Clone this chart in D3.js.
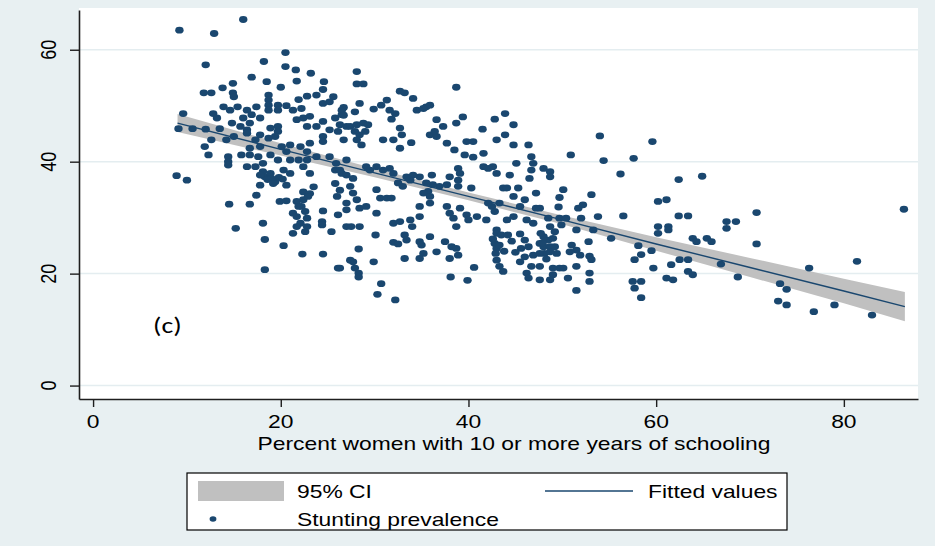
<!DOCTYPE html>
<html>
<head>
<meta charset="utf-8">
<script src="https://cdn.jsdelivr.net/npm/d3@7"></script>
<style>
  html, body { margin: 0; padding: 0; background: #e8f0f2; }
  svg { display: block; }
</style>
</head>
<body>
<svg id="chart" width="935" height="546"></svg>
<script>
// District-level points: share of women with 10+ years of schooling vs. child stunting
const schooling = [
  9.2,12.9,16.0,20.5,12.0,18.2,20.5,21.6,23.2,16.9,18.5,14.9,13.8,11.8,12.6,14.9,15.0,20.0,24.6,24.5,
  21.7,18.7,18.7,18.7,18.7,21.9,22.8,23.8,25.6,25.2,24.5,26.7,9.6,9.1,10.6,12.0,13.5,12.8,13.2,13.9,
  14.6,15.4,16.4,17.4,16.9,16.0,16.4,15.7,14.8,16.7,17.8,19.7,20.6,19.7,21.3,22.2,22.4,21.7,23.1,25.8,
  26.5,24.5,23.8,22.8,19.7,18.9,19.7,19.4,17.8,18.7,17.3,16.4,15.0,14.2,12.6,11.9,12.3,14.4,14.4,14.4,
  15.8,16.7,17.8,16.7,17.6,18.9,20.1,21.0,20.6,22.1,22.8,23.1,24.5,25.2,24.5,26.1,27.0,26.7,23.8,22.8,
  21.9,21.0,19.7,18.1,17.3,16.4,18.1,18.3,18.9,8.9,10.0,20.3,21.0,22.4,23.1,25.2,25.9,25.8,26.5,17.8,
  19.4,19.0,19.8,18.6,20.2,
  17.8,19.2,20.6,23.5,22.4,23.1,25.8,26.3,26.0,17.4,14.5,16.7,19.9,20.6,21.7,22.2,21.3,21.7,22.6,22.8,
  24.5,26.1,27.0,22.1,21.3,22.6,24.4,24.4,25.4,27.0,15.2,18.1,18.3,20.3,22.3,24.5,18.3,26.1,27.4,21.9,
  22.4,22.9,21.7,22.8,
  28.1,28.1,28.8,38.7,32.7,33.2,34.1,31.3,30.7,29.9,28.4,27.9,31.6,32.2,31.8,34.5,35.5,35.9,35.2,26.5,
  26.7,26.3,27.4,28.1,28.8,29.3,27.9,28.4,29.0,28.1,28.6,32.7,32.9,30.9,32.0,33.9,32.7,36.6,37.3,38.7,
  39.4,41.5,42.8,43.9,44.8,35.9,36.6,36.4,37.7,39.8,40.5,38.5,39.6,40.5,41.6,43.0,43.9,44.8,46.4,46.7,
  46.9,46.7,46.5,45.1,44.4,42.6,41.6,42.1,43.0,43.7,44.1,45.3,46.0,44.8,43.3,42.5,42.8,42.1,40.3,38.9,
  38.9,39.1,38.9,38.0,37.7,36.9,36.2,35.5,35.7,35.2,36.1,34.8,34.1,33.8,33.4,33.0,32.5,32.0,31.6,30.9,
  30.2,29.5,29.1,27.0,26.3,27.0,27.7,27.4,27.7,28.1,27.0,28.4,29.1,30.2,30.6,31.3,31.8,30.2,27.5,28.4,
  34.8,34.8,33.8,34.0,32.0,32.7,35.9,35.9,37.7,38.0,39.1,39.8,40.0,38.4,38.7,40.9,41.9,44.1,44.8,45.5,
  47.2,47.2,46.2,46.9,43.0,
  30.1,32.0,32.5,33.2,33.4,34.8,35.0,35.9,37.5,38.2,38.7,38.9,38.0,36.6,35.2,34.8,33.2,28.3,27.7,27.9,
  28.3,28.3,29.9,30.7,30.3,32.2,38.1,39.9,40.6,43.0,43.5,44.2,42.8,43.0,43.3,43.0,43.3,43.7,45.5,46.0,
  45.6,46.4,45.5,46.0,46.9,46.7,46.2,46.4,26.3,47.6,42.6,42.9,43.8,44.6,45.0,
  54.0,59.6,50.9,54.4,57.6,56.2,62.4,64.9,48.0,48.7,48.7,50.1,49.7,49.6,47.6,53.1,51.7,52.2,52.0,53.8,
  56.5,60.2,61.1,62.4,63.4,67.5,67.5,48.5,49.7,50.4,48.7,49.9,49.2,51.5,53.3,55.2,60.2,60.2,61.3,61.3,
  63.9,64.3,65.4,65.9,52.8,51.0,51.5,50.8,51.9,48.0,48.0,48.5,48.7,48.1,49.2,49.4,48.7,47.6,52.9,53.1,
  51.5,52.9,52.9,51.5,50.6,49.7,49.0,50.1,49.0,48.7,47.6,47.6,58.1,59.5,58.4,57.7,59.7,61.6,62.5,63.4,
  63.4,63.9,61.1,61.8,57.5,57.7,58.4,58.4,66.9,47.9,48.3,49.0,47.7,
  68.5,70.7,70.7,68.7,73.2,73.9,73.0,73.9,76.3,76.8,79.0,81.4,83.0,86.4
];
const stunting = [
  63.5,62.9,65.4,59.5,57.3,57.9,57.0,56.4,55.8,55.1,54.3,54.0,53.2,52.3,52.3,52.3,51.6,53.3,54.3,52.9,
  54.4,51.9,51.0,50.1,49.2,51.1,51.7,51.9,51.6,50.7,50.4,49.7,48.6,45.9,45.9,45.8,45.9,48.6,47.8,49.8,
  49.2,49.8,49.2,49.8,48.4,47.8,45.7,46.3,46.9,46.9,47.8,50.1,50.0,49.2,49.2,49.5,47.8,47.5,48.1,47.8,
  48.4,47.2,46.3,46.3,46.3,46.0,45.4,44.5,44.8,44.2,43.9,45.1,44.5,43.9,43.9,42.7,41.2,40.9,40.0,39.4,
  41.2,42.4,42.7,41.2,40.9,41.2,42.7,43.0,41.8,42.7,41.8,43.3,44.5,45.7,43.6,45.4,46.3,43.9,40.9,40.3,
  40.3,40.3,40.3,39.7,39.1,39.1,38.2,37.3,37.9,37.5,36.7,38.5,37.9,39.1,37.9,40.9,39.7,38.5,37.9,37.6,
  36.4,37.0,37.2,36.8,36.9,
  35.8,36.1,35.8,35.5,34.6,34.3,36.1,34.9,33.8,34.0,32.4,32.4,32.9,33.0,32.9,32.0,30.8,30.2,31.1,29.9,
  31.2,30.5,31.4,29.0,27.2,27.5,29.3,28.7,27.5,28.4,28.1,29.0,26.1,25.0,23.5,23.5,20.7,21.0,22.4,32.0,
  33.2,33.8,28.4,28.4,
  56.1,53.9,53.9,53.3,52.6,52.3,51.3,51.0,50.1,49.4,50.4,48.9,49.2,48.6,47.6,49.2,49.8,50.1,49.5,49.2,
  48.3,46.6,46.3,46.6,46.9,46.6,45.4,44.8,45.4,43.9,43.0,46.0,44.8,43.9,43.9,43.4,42.4,47.5,46.3,46.9,
  48.0,45.8,47.6,48.6,46.6,44.8,44.5,45.4,43.3,43.6,43.6,42.1,41.2,40.8,41.5,43.9,44.8,43.0,43.0,40.9,
  39.7,38.5,37.0,39.7,37.6,39.1,39.1,38.8,37.9,35.3,35.3,35.3,33.2,33.8,32.6,32.0,31.1,32.6,35.3,35.6,
  36.7,37.9,38.8,37.3,35.9,35.6,35.9,36.2,34.7,34.4,37.6,37.3,37.6,36.7,37.3,35.6,36.2,37.9,38.8,38.5,
  39.1,38.5,39.1,40.3,38.5,37.6,37.0,35.6,34.4,33.2,32.6,31.7,32.0,35.0,33.5,33.5,33.5,30.8,28.4,28.4,
  32.0,30.2,29.6,28.4,29.0,29.3,32.6,33.8,32.0,30.8,31.7,30.5,29.6,29.9,28.4,30.2,29.6,29.6,30.2,32.0,
  34.4,31.7,29.6,29.0,27.8,
  26.9,25.6,25.3,26.9,26.0,25.7,25.1,26.6,25.7,24.8,24.5,23.3,22.7,23.9,23.6,22.7,22.7,24.4,22.1,21.0,
  20.1,19.4,22.1,18.2,16.3,15.3,19.4,18.8,21.1,27.2,26.9,26.9,25.4,24.5,25.1,22.4,21.3,20.4,27.1,26.0,
  24.5,24.8,22.1,23.0,23.3,21.3,20.1,19.2,21.0,25.4,26.2,23.6,24.0,25.8,23.8,
  44.6,43.6,41.2,40.2,40.6,37.8,36.8,37.4,38.8,38.2,37.3,35.0,33.6,31.9,31.7,34.1,31.7,32.3,29.9,30.2,
  30.3,32.9,33.2,30.3,30.3,29.3,28.1,29.9,29.9,29.9,28.4,28.7,27.5,27.8,27.8,26.3,28.4,27.2,28.4,27.8,
  26.3,25.7,26.3,25.7,25.7,25.1,24.2,23.9,23.3,26.6,24.8,26.0,24.8,23.6,24.8,23.6,23.9,23.6,23.1,22.5,
  21.3,20.1,18.6,17.0,19.2,21.0,21.0,21.0,19.8,18.9,21.3,18.9,25.0,24.1,23.4,22.5,21.0,21.6,22.5,22.5,
  20.4,19.8,19.2,18.9,18.6,17.4,18.6,15.7,21.7,25.5,22.6,26.3,27.2,
  29.3,30.9,25.3,19.4,18.2,17.2,15.1,14.4,21.0,13.2,14.4,22.2,12.6,31.5
];

// Linear fit with its 95% confidence band
const fitX    = [9, 20, 30, 40, 50, 60, 70, 80, 86.5];
const fitted  = [46.9, 42.2, 38.0, 33.8, 29.6, 25.3, 21.1, 16.9, 14.1];
const ciLower = [45.3, 41.1, 37.2, 33.1, 28.8, 24.1, 19.4, 14.7, 11.5];
const ciUpper = [48.5, 43.3, 38.8, 34.5, 30.4, 26.5, 22.8, 19.1, 16.7];

const xTicks = [0, 20, 40, 60, 80];
const yTicks = [0, 20, 40, 60];
const xTitle = "Percent women with 10 or more years of schooling";
const legendLabels = ["95% CI", "Fitted values", "Stunting prevalence"];
const panelLabel = "(c)";

const NAVY = "#1a476f";
const BAND = "#c0c0c0";
const SX = 1.27;          // wide type, as in the exported figure
const FONT = "'Liberation Sans', Arial, sans-serif";

const svg = d3.select("#chart");
const plot = { left: 79, right: 918, top: 8, bottom: 399 };

const x = d3.scaleLinear().domain([-1.5, 87.9]).range([plot.left, plot.right]);
const y = d3.scaleLinear().domain([-2.4, 67.1]).range([plot.bottom, 10]);

// background and plot region
svg.append("rect").attr("width", 935).attr("height", 546).attr("fill", "#e8f0f2");
svg.append("rect")
  .attr("x", plot.left).attr("y", plot.top)
  .attr("width", plot.right - plot.left).attr("height", plot.bottom - plot.top)
  .attr("fill", "#ffffff");

// horizontal grid
svg.append("g").selectAll("line").data(yTicks).join("line")
  .attr("x1", plot.left).attr("x2", plot.right)
  .attr("y1", d => y(d)).attr("y2", d => y(d))
  .attr("stroke", "#e4edf0").attr("stroke-width", 1.5);

// confidence band
const pts = fitX.map((v, i) => ({ x: v, f: fitted[i], lo: ciLower[i], hi: ciUpper[i] }));
svg.append("path").datum(pts)
  .attr("fill", BAND)
  .attr("d", d3.area().x(d => x(d.x)).y0(d => y(d.lo)).y1(d => y(d.hi)));

// fitted line
svg.append("path").datum(pts)
  .attr("fill", "none").attr("stroke", NAVY).attr("stroke-width", 1.4)
  .attr("d", d3.line().x(d => x(d.x)).y(d => y(d.f)));

// scatter points
const data = schooling.map((v, i) => ({ x: v, y: stunting[i] }));
svg.append("g").selectAll("ellipse").data(data).join("ellipse")
  .attr("cx", d => x(d.x)).attr("cy", d => y(d.y))
  .attr("rx", 4.2).attr("ry", 3.4)
  .attr("fill", NAVY);

// axes
const xAxis = d3.axisBottom(x).tickValues(xTicks).tickFormat("").tickSize(8).tickSizeOuter(0);
const yAxis = d3.axisLeft(y).tickValues(yTicks).tickFormat("").tickSize(9).tickSizeOuter(0);
const gx = svg.append("g").attr("transform", `translate(0,${plot.bottom})`).call(xAxis);
const gy = svg.append("g").attr("transform", `translate(${plot.left},0)`).call(yAxis);
[gx, gy].forEach(g => {
  g.select(".domain").attr("stroke", "#1e1e1e").attr("stroke-width", 1.6);
  g.selectAll(".tick line").attr("stroke", "#1e1e1e").attr("stroke-width", 1.4);
});

function stretchedText(parent, str, tx, ty, opts = {}) {
  return parent.append("text")
    .attr("transform", `translate(${tx},${ty}) scale(${SX},1)` + (opts.rotate ? ` rotate(${opts.rotate})` : ""))
    .attr("text-anchor", opts.anchor || "start")
    .attr("font-family", opts.family || FONT)
    .attr("font-size", opts.size || 18)
    .attr("fill", "#000")
    .text(str);
}

// tick labels
xTicks.forEach(v => stretchedText(svg, String(v), x(v), 428, { anchor: "middle" }));
yTicks.forEach(v => stretchedText(svg, String(v), 56, y(v), { anchor: "middle", rotate: -90 }));

// axis title
stretchedText(svg, xTitle, 514, 450, { anchor: "middle" });

// panel label
stretchedText(svg, panelLabel, 153, 333, { family: "Carlito, Lato, 'Open Sans', sans-serif", size: 22 });

// legend
const lg = svg.append("g");
lg.append("rect").attr("x", 187).attr("y", 473).attr("width", 600).attr("height", 57)
  .attr("fill", "#fff").attr("stroke", "#000").attr("stroke-width", 1.2);
lg.append("rect").attr("x", 198).attr("y", 481).attr("width", 86).attr("height", 20).attr("fill", BAND);
stretchedText(lg, legendLabels[0], 297, 498);
lg.append("line").attr("x1", 545).attr("x2", 633).attr("y1", 491).attr("y2", 491)
  .attr("stroke", NAVY).attr("stroke-width", 1.4);
stretchedText(lg, legendLabels[1], 648, 498);
lg.append("ellipse").attr("cx", 213).attr("cy", 519).attr("rx", 3.4).attr("ry", 2.8).attr("fill", NAVY);
stretchedText(lg, legendLabels[2], 297, 526);
</script>
</body>
</html>
